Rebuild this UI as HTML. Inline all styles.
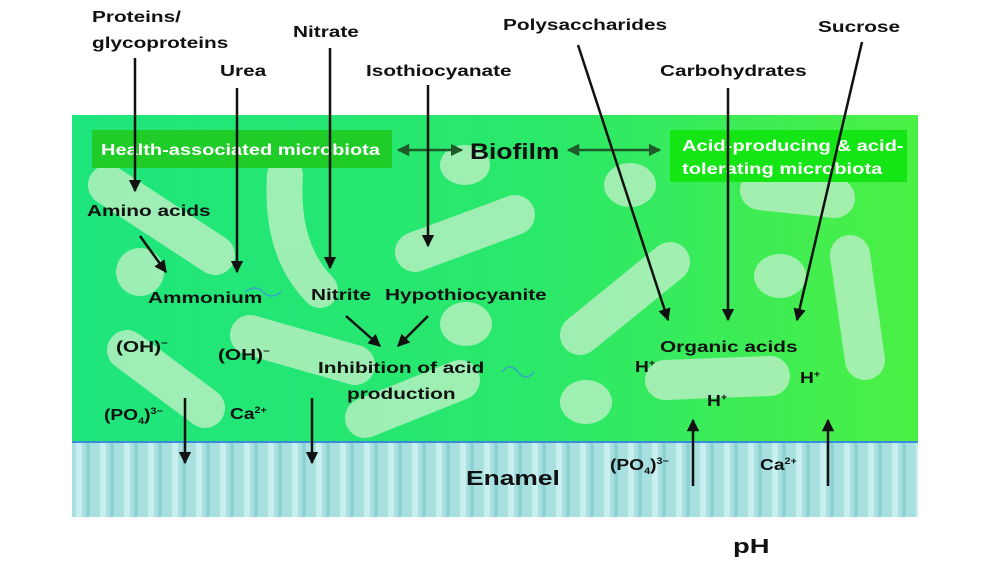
<!DOCTYPE html>
<html><head><meta charset="utf-8"><style>
html,body{margin:0;padding:0;background:#fff}
svg{display:block}
text{font-family:"Liberation Sans",Arial,sans-serif;font-weight:bold;fill:#111;font-size:16px}
</style></head><body>
<svg width="1000" height="563" viewBox="0 0 1000 563" xmlns="http://www.w3.org/2000/svg">
<defs>
<linearGradient id="g" x1="0" x2="1" y1="0" y2="0">
<stop offset="0" stop-color="#1ee57c"/><stop offset="0.55" stop-color="#2ae86a"/><stop offset="1" stop-color="#4cf044"/>
</linearGradient>
<pattern id="en" width="24" height="75" patternUnits="userSpaceOnUse">
<rect width="24" height="75" fill="#a8e0e0"/>
<rect x="4" width="6" height="75" fill="#c8f0f0"/>
<rect x="14" width="4" height="75" fill="#8fd2d6"/>
</pattern>
<marker id="a" viewBox="0 0 10 10" refX="9" refY="5" markerWidth="5" markerHeight="5" orient="auto-start-reverse"><path d="M0,0L10,5L0,10z" fill="#111"/></marker>
<marker id="b" viewBox="0 0 10 10" refX="9" refY="5" markerWidth="5" markerHeight="5" orient="auto-start-reverse"><path d="M0,0L10,5L0,10z" fill="#1e5a2a"/></marker>
</defs>
<rect x="72" y="115" width="846" height="327" fill="url(#g)"/>
<rect x="72" y="442" width="846" height="75" fill="url(#en)"/>
<line x1="72" y1="442" x2="918" y2="442" stroke="#3a8cd8" stroke-width="2"/>
<g stroke="#b4f0c0" stroke-linecap="round" fill="none" stroke-width="40" opacity="0.85">
<line x1="108" y1="185" x2="215" y2="255"/>
<path d="M285 175 Q280 250 320 290" stroke-width="36"/>
<line x1="415" y1="252" x2="515" y2="215"/>
<line x1="127" y1="350" x2="205" y2="408"/>
<line x1="250" y1="335" x2="355" y2="365"/>
<line x1="365" y1="418" x2="460" y2="380"/>
<line x1="580" y1="335" x2="670" y2="262"/>
<line x1="760" y1="190" x2="835" y2="198"/>
<line x1="850" y1="255" x2="865" y2="360"/>
<line x1="665" y1="380" x2="770" y2="376"/>
</g>
<g fill="#b4f0c0" opacity="0.85">
<circle cx="140" cy="272" r="24"/>
<ellipse cx="465" cy="165" rx="25" ry="20"/>
<ellipse cx="466" cy="324" rx="26" ry="22"/>
<ellipse cx="630" cy="185" rx="26" ry="22"/>
<ellipse cx="780" cy="276" rx="26" ry="22"/>
<ellipse cx="586" cy="402" rx="26" ry="22"/>
</g>
<rect x="92" y="130" width="300" height="38" fill="#1fcc28"/>
<rect x="670" y="130" width="237" height="52" fill="#14e514"/>
<text transform="translate(101,155) scale(1.25,1)" style="fill:#fff">Health-associated microbiota</text>
<text transform="translate(682,151) scale(1.26,1)" style="fill:#fff">Acid-producing &amp; acid-</text>
<text transform="translate(682,174) scale(1.26,1)" style="fill:#fff">tolerating microbiota</text>
<text transform="translate(470,159) scale(1.2,1)" style="font-size:22px">Biofilm</text>
<g stroke="#1e5a2a" stroke-width="2.5">
<line x1="398" y1="150" x2="462" y2="150" marker-start="url(#b)" marker-end="url(#b)"/>
<line x1="568" y1="150" x2="660" y2="150" marker-start="url(#b)" marker-end="url(#b)"/>
</g>
<g stroke="#111" stroke-width="2.5" fill="none">
<line x1="135" y1="58" x2="135" y2="191" marker-end="url(#a)"/>
<line x1="237" y1="88" x2="237" y2="272" marker-end="url(#a)"/>
<line x1="330" y1="48" x2="330" y2="268" marker-end="url(#a)"/>
<line x1="428" y1="85" x2="428" y2="246" marker-end="url(#a)"/>
<line x1="140" y1="236" x2="166" y2="272" marker-end="url(#a)"/>
<line x1="346" y1="316" x2="380" y2="346" marker-end="url(#a)"/>
<line x1="428" y1="316" x2="398" y2="346" marker-end="url(#a)"/>
<line x1="578" y1="45" x2="668" y2="320" marker-end="url(#a)"/>
<line x1="728" y1="88" x2="728" y2="320" marker-end="url(#a)"/>
<line x1="862" y1="42" x2="797" y2="320" marker-end="url(#a)"/>
<line x1="185" y1="398" x2="185" y2="463" marker-end="url(#a)"/>
<line x1="312" y1="398" x2="312" y2="463" marker-end="url(#a)"/>
<line x1="693" y1="486" x2="693" y2="420" marker-end="url(#a)"/>
<line x1="828" y1="486" x2="828" y2="420" marker-end="url(#a)"/>
</g>
<path d="M245 292 q10 -8 18 0 t18 0" stroke="#3a9ad8" stroke-width="1.2" fill="none"/>
<path d="M502 372 q8 -10 16 0 t16 0" stroke="#3a9ad8" stroke-width="1.2" fill="none"/>
<text transform="translate(92,22) scale(1.3,1)">Proteins/</text>
<text transform="translate(92,48) scale(1.3,1)">glycoproteins</text>
<text transform="translate(220,76) scale(1.3,1)">Urea</text>
<text transform="translate(293,37) scale(1.3,1)">Nitrate</text>
<text transform="translate(366,76) scale(1.3,1)">Isothiocyanate</text>
<text transform="translate(503,30) scale(1.3,1)">Polysaccharides</text>
<text transform="translate(660,76) scale(1.3,1)">Carbohydrates</text>
<text transform="translate(818,32) scale(1.3,1)">Sucrose</text>
<text transform="translate(87,216) scale(1.3,1)">Amino acids</text>
<text transform="translate(148,303) scale(1.3,1)">Ammonium</text>
<text transform="translate(311,300) scale(1.3,1)">Nitrite</text>
<text transform="translate(385,300) scale(1.3,1)">Hypothiocyanite</text>
<text transform="translate(116,352) scale(1.3,1)">(OH)<tspan style="font-size:9px" dy="-6">−</tspan></text>
<text transform="translate(218,360) scale(1.3,1)">(OH)<tspan style="font-size:9px" dy="-6">−</tspan></text>
<text transform="translate(318,373) scale(1.3,1)">Inhibition of acid</text>
<text transform="translate(347,399) scale(1.3,1)">production</text>
<text transform="translate(104,420) scale(1.2,1)">(PO<tspan style="font-size:9px" dy="4">4</tspan><tspan dy="-4">)</tspan><tspan style="font-size:9px" dy="-6">3−</tspan></text>
<text transform="translate(230,419) scale(1.2,1)">Ca<tspan style="font-size:9px" dy="-6">2+</tspan></text>
<text transform="translate(660,352) scale(1.3,1)">Organic acids</text>
<text transform="translate(635,372) scale(1.2,1)">H<tspan style="font-size:9px" dy="-6">+</tspan></text>
<text transform="translate(800,383) scale(1.2,1)">H<tspan style="font-size:9px" dy="-6">+</tspan></text>
<text transform="translate(707,406) scale(1.2,1)">H<tspan style="font-size:9px" dy="-6">+</tspan></text>
<text transform="translate(610,470) scale(1.2,1)">(PO<tspan style="font-size:9px" dy="4">4</tspan><tspan dy="-4">)</tspan><tspan style="font-size:9px" dy="-6">3−</tspan></text>
<text transform="translate(760,470) scale(1.2,1)">Ca<tspan style="font-size:9px" dy="-6">2+</tspan></text>
<text transform="translate(466,485) scale(1.32,1)" style="font-size:20px">Enamel</text>
<text transform="translate(733,553) scale(1.37,1)" style="font-size:20px">pH</text>
</svg>
</body></html>
